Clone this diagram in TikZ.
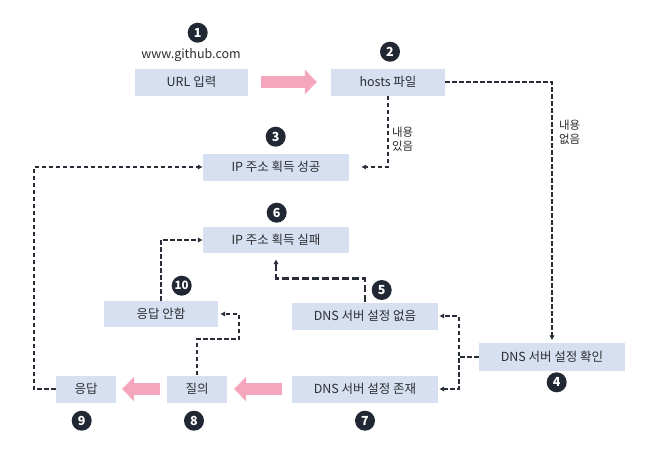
\documentclass[tikz,border=0pt]{standalone}
\usepackage{fontspec}
\setmainfont{Noto Sans CJK KR}
\usetikzlibrary{arrows.meta}
\definecolor{boxblue}{RGB}{214,224,241}
\definecolor{flowpink}{RGB}{243,166,188}
\definecolor{numdark}{RGB}{33,40,51}
\definecolor{linedark}{RGB}{40,45,55}
\definecolor{txtgray}{RGB}{45,45,50}

\begin{document}
\begin{tikzpicture}[x=1pt,y=-1pt]
\tikzstyle{every node}=[font=\fontsize{12.5}{14}\selectfont,text=txtgray];
\tikzstyle{box}=[fill=boxblue,minimum height=27pt,inner sep=0pt];
\tikzstyle{num}=[circle,fill=numdark,text=white,minimum size=20pt,inner sep=0pt,font=\fontsize{12.5}{12.5}\selectfont\bfseries];
\tikzstyle{link}=[draw=linedark,line width=2pt,dash pattern=on 4.5pt off 2.5pt,-{Latex[length=5pt,width=5.5pt]}];
\tikzstyle{flow}=[draw=flowpink,line width=12pt,-{Triangle[length=12pt,width=24pt]}];
\tikzstyle{note}=[font=\fontsize{11.5}{14.5}\selectfont,align=left,anchor=west];

\useasboundingbox (0,0) rectangle (648,459);

\node[box,minimum width=113pt] (url) at (191.5,82) {URL 입력};
\node[box,minimum width=114pt] (hosts) at (388,82) {hosts 파일};
\node[box,minimum width=146pt] (ok) at (276,167) {IP 주소 획득 성공};
\node[box,minimum width=146pt,minimum height=26pt] (fail) at (276,240) {IP 주소 획득 실패};
\node[box,minimum width=114pt,minimum height=26pt] (noresp) at (161,314) {응답 안함};
\node[box,minimum width=146pt] (nodns) at (365,316) {DNS 서버 설정 없음};
\node[box,minimum width=146pt,minimum height=28pt] (check) at (552,357) {DNS 서버 설정 확인};
\node[box,minimum width=60pt] (resp) at (86,389) {응답};
\node[box,minimum width=60pt] (query) at (197,389) {질의};
\node[box,minimum width=146pt] (dns) at (365,389) {DNS 서버 설정 존재};

\node (site) at (191,55) {www.github.com};

\node[num] (n1) at (197.7,32.7) {1};
\node[num] (n2) at (390,51.7) {2};
\node[num] (n3) at (275.7,136.7) {3};
\node[num] (n4) at (556.7,382.3) {4};
\node[num] (n5) at (381.7,290) {5};
\node[num] (n6) at (276.7,212.7) {6};
\node[num] (n7) at (365,420.7) {7};
\node[num] (n8) at (194,420.7) {8};
\node[num] (n9) at (81.7,420.7) {9};
\node[num,font=\fontsize{11.5}{11.5}\selectfont\bfseries] (n10) at (181.7,285.7) {10};

\node[note] (found) at (388.5,139) {내용\\있음};
\node[note] (notfound) at (555.5,132) {내용\\없음};

\draw[flow,shorten <=12.5pt,shorten >=14pt] (url.east) -- (hosts.west);
\draw[flow,shorten <=10pt,shorten >=7pt] (dns.west) -- (query.east);
\draw[flow,shorten <=7pt,shorten >=6pt] (query.west) -- (resp.east);

\draw[link,shorten >=12pt] (hosts.south) |- (ok.east);
\draw[link,shorten >=2.5pt] (hosts.east) -| (check.north);
\draw[link] (resp.west) -- ++(-22,0) |- (ok.west);
\draw[link] (noresp.north) |- (fail.west);
\draw[link,line width=2.8pt,dash pattern=on 7pt off 3pt,shorten >=6pt] (nodns.north) -- ++(0,-24) -| (fail.south);
\draw[link,shorten >=2pt] (query.north) -- ++(0,-36) -- ++(42,0) |- (noresp.east);
\draw[link,shorten >=1pt] (check.west) -- ++(-20,0) |- (nodns.east);
\draw[link,shorten >=1pt] (check.west) -- ++(-20,0) |- (dns.east);
\end{tikzpicture}
\end{document}
